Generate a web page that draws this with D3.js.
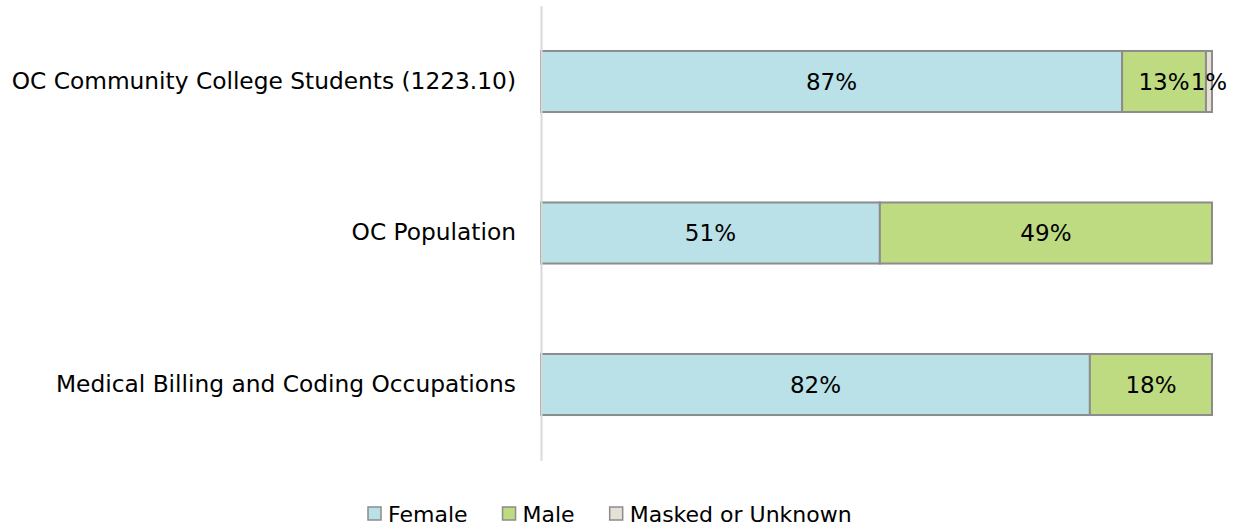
<!DOCTYPE html>
<html>
<head>
    <title>Gender Distribution</title>
    <script src="https://cdn.jsdelivr.net/npm/d3@7"></script>
</head>
<body style="margin: 0; background: #fff">
<svg width="1244" height="529"></svg>

<script>
    const categories = [
        "OC Community College Students (1223.10)",
        "OC Population",
        "Medical Billing and Coding Occupations"
    ];
    const seriesNames = ["Female", "Male", "Masked or Unknown"];
    const female = [0.866, 0.505, 0.818];
    const male = [0.125, 0.495, 0.182];
    const masked = [0.009, 0, 0];
    const labels = [
        ["87%", "13%", "1%"],
        ["51%", "49%", ""],
        ["82%", "18%", ""]
    ];
    const colors = ["#b9e1e7", "#bedb81", "#e6e0d7"];

    const svg = d3.select("svg");
    const font = "'DejaVu Sans', sans-serif";

    const x = d3.scaleLinear().domain([0, 1]).range([541, 1212]);
    const y = d3.scaleBand()
        .domain(categories)
        .range([5.75, 460.25])
        .paddingInner(0.597)
        .paddingOuter(0.2985);

    // Stack the series
    const rows = categories.map((c, i) => ({
        cat: c, Female: female[i], Male: male[i], "Masked or Unknown": masked[i], idx: i
    }));
    const stacked = d3.stack().keys(seriesNames)(rows);

    stacked.forEach((layer, si) => {
        svg.append("g").selectAll("rect")
            .data(layer)
            .enter().append("rect")
            .attr("x", d => x(d[0]))
            .attr("y", d => y(d.data.cat))
            .attr("width", d => Math.max(0, x(d[1]) - x(d[0])))
            .attr("height", y.bandwidth())
            .attr("fill", colors[si])
            .attr("stroke", "#8c8c8c")
            .attr("stroke-width", 2)
            .style("display", d => d[1] - d[0] > 0 ? null : "none");

        svg.append("g").selectAll("text")
            .data(layer)
            .enter().append("text")
            .attr("x", d => x((d[0] + d[1]) / 2))
            .attr("y", d => y(d.data.cat) + y.bandwidth() / 2)
            .attr("dy", "0.36em")
            .attr("text-anchor", "middle")
            .attr("font-family", font)
            .attr("font-size", "23px")
            .attr("fill", "#000")
            .text(d => labels[d.data.idx][si]);
    });

    // Category axis
    const axis = svg.append("g")
        .attr("transform", "translate(541,0)")
        .call(d3.axisLeft(y).tickSize(0).tickSizeOuter(0).tickPadding(25));
    axis.select(".domain").attr("stroke", "#d9d9d9").attr("stroke-width", 2);
    axis.selectAll("text")
        .attr("font-family", font)
        .attr("font-size", "23.3px")
        .attr("fill", "#000");

    // Legend
    const legend = svg.append("g").attr("transform", "translate(0,514)");
    let lx = 368;
    seriesNames.forEach((name, i) => {
        legend.append("rect")
            .attr("x", lx).attr("y", -7)
            .attr("width", 13).attr("height", 13)
            .attr("fill", colors[i])
            .attr("stroke", "#8c8c8c")
            .attr("stroke-width", 1.5);
        const t = legend.append("text")
            .attr("x", lx + 20).attr("y", 0)
            .attr("dy", "0.36em")
            .attr("font-family", font)
            .attr("font-size", "22px")
            .attr("fill", "#000")
            .text(name);
        lx += 20 + t.node().getComputedTextLength() + 35;
    });
</script>
</body>
</html>
